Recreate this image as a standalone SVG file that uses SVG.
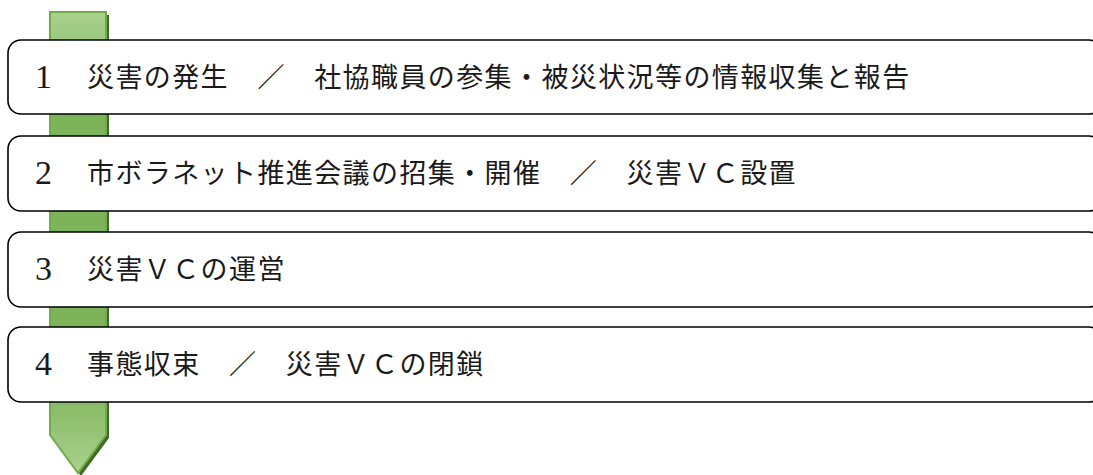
<svg xmlns="http://www.w3.org/2000/svg" width="1093" height="475" viewBox="0 0 1093 475">
<defs>
<linearGradient id="g" x1="0" y1="0" x2="0" y2="1">
<stop offset="0" stop-color="#a9d18e"/>
<stop offset="0.2" stop-color="#7db45a"/>
<stop offset="0.8" stop-color="#7db45a"/>
<stop offset="1" stop-color="#a9d18e"/>
</linearGradient>
<style>
.box{fill:#fff;stroke:#000;stroke-width:1.6}
.t{font-family:"Noto Sans CJK JP","Noto Sans CJK SC",sans-serif;font-size:27px;letter-spacing:1.4px;fill:#1a1a1a}
.n{font-family:"Liberation Serif",serif;font-size:34px;fill:#1a1a1a}
</style>
</defs>
<g id="arrow">
<path d="M53 15 H109 V438 L81 476 L53 438 Z" fill="#3e6b25"/>
<path d="M50 12 H106 V435 L78 473 L50 435 Z" fill="url(#g)" stroke="#70ad47" stroke-width="2"/>
</g>
<g id="node1">
<rect class="box" x="8" y="40" width="1094" height="74" rx="13"/>
<text class="n" x="35" y="88">1</text>
<text class="t" x="87" y="87">災害の発生　／　社協職員の参集・被災状況等の情報収集と報告</text>
</g>
<g id="node2">
<rect class="box" x="8" y="136" width="1094" height="75" rx="13"/>
<text class="n" x="35" y="184">2</text>
<text class="t" x="87" y="183">市ボラネット推進会議の招集・開催　／　災害ＶＣ設置</text>
</g>
<g id="node3">
<rect class="box" x="8" y="232" width="1094" height="75" rx="13"/>
<text class="n" x="35" y="280">3</text>
<text class="t" x="87" y="279">災害ＶＣの運営</text>
</g>
<g id="node4">
<rect class="box" x="8" y="327" width="1094" height="75" rx="13"/>
<text class="n" x="35" y="375">4</text>
<text class="t" x="87" y="374">事態収束　／　災害ＶＣの閉鎖</text>
</g>
<g id="connectors"></g>
</svg>
